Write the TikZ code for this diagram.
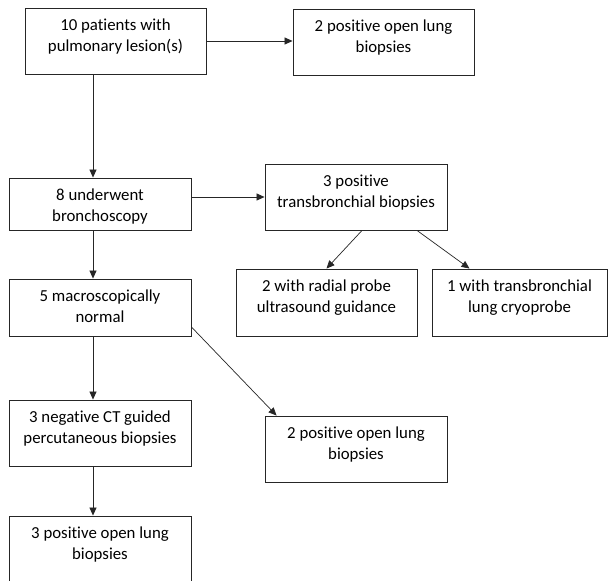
\documentclass[tikz,border=0pt]{standalone}
\usepackage{fontspec}
\setmainfont{Carlito}[Ligatures={NoCommon}]
\usetikzlibrary{arrows.meta}
\newcommand{\tl}[1]{\parbox[t]{200pt}{\centering #1}}
\begin{document}
\begin{tikzpicture}[x=1pt,y=-1pt,
 box/.style={draw=black!85, line width=0.9pt, inner sep=0pt, rectangle},
 txt/.style={inner sep=0pt, anchor=base, font=\fontsize{16.8}{21}\selectfont},
 arr/.style={draw=black!85, line width=0.7pt, -{Triangle[length=8pt,width=7pt]}}]
\useasboundingbox (0,0) rectangle (608,581);
\fill[white] (0,0) rectangle (608,581);
\clip (0,0) rectangle (608,581);
\coordinate (vx) at (93,0);
% boxes
\node[box, minimum width=181pt, minimum height=66pt] (b1) at (115.5,41) {};
\node[box, minimum width=181pt, minimum height=66pt] (b2) at (383.5,42) {};
\node[box, minimum width=182pt, minimum height=52pt] (b3) at (100,204) {};
\node[box, minimum width=182pt, minimum height=66pt] (b4) at (356,197) {};
\node[box, minimum width=181pt, minimum height=67pt] (b5) at (326.5,302.5) {};
\node[box, minimum width=175pt, minimum height=67pt] (b6) at (519.5,302.5) {};
\node[box, minimum width=182pt, minimum height=57pt] (b7) at (100,307.5) {};
\node[box, minimum width=182pt, minimum height=66pt] (b8) at (100,433) {};
\node[box, minimum width=182pt, minimum height=66pt] (b9) at (356,449) {};
\node[box, minimum width=182pt, minimum height=68pt] (b10) at (100,550) {};
% texts
\node[txt] (t1) at ([yshift=-23pt]b1.north) {\tl{10 patients with\\pulmonary lesion(s)}};
\node[txt] (t2) at ([yshift=-23pt]b2.north) {\tl{2 positive open lung\\biopsies}};
\node[txt] (t3) at ([yshift=-23pt]b3.north) {\tl{8 underwent\\bronchoscopy}};
\node[txt] (t4) at ([yshift=-23pt]b4.north) {\tl{3 positive\\transbronchial biopsies}};
\node[txt] (t5) at ([yshift=-23pt]b5.north) {\tl{2 with radial probe\\ultrasound guidance}};
\node[txt] (t6) at ([yshift=-23pt]b6.north) {\tl{1 with transbronchial\\lung cryoprobe}};
\node[txt] (t7) at ([yshift=-23pt]b7.north) {\tl{5 macroscopically\\normal}};
\node[txt] (t8) at ([yshift=-23pt]b8.north) {\tl{3 negative CT guided\\percutaneous biopsies}};
\node[txt] (t9) at ([yshift=-23pt]b9.north) {\tl{2 positive open lung\\biopsies}};
\node[txt] (t10) at ([yshift=-23pt]b10.north) {\tl{3 positive open lung\\biopsies}};
% connectors
\draw[arr] (b1.east) -- (b1.east -| b2.west);
\draw[arr] (b1.south -| vx) -- (b3.north -| vx);
\draw[arr] (b3.east |- b4.west) -- (b4.west);
\draw[arr] ([xshift=6pt]b4.south) -- (b5.north);
\draw[arr] ([xshift=61pt]b4.south) -- ([xshift=-50pt]b6.north);
\draw[arr] (b3.south -| vx) -- (b7.north -| vx);
\draw[arr] (b7.south -| vx) -- (b8.north -| vx);
\draw[arr] ([yshift=-19.5pt]b7.east) -- ([xshift=12pt]b9.north west);
\draw[arr] (b8.south -| vx) -- (b10.north -| vx);
\end{tikzpicture}
\end{document}
